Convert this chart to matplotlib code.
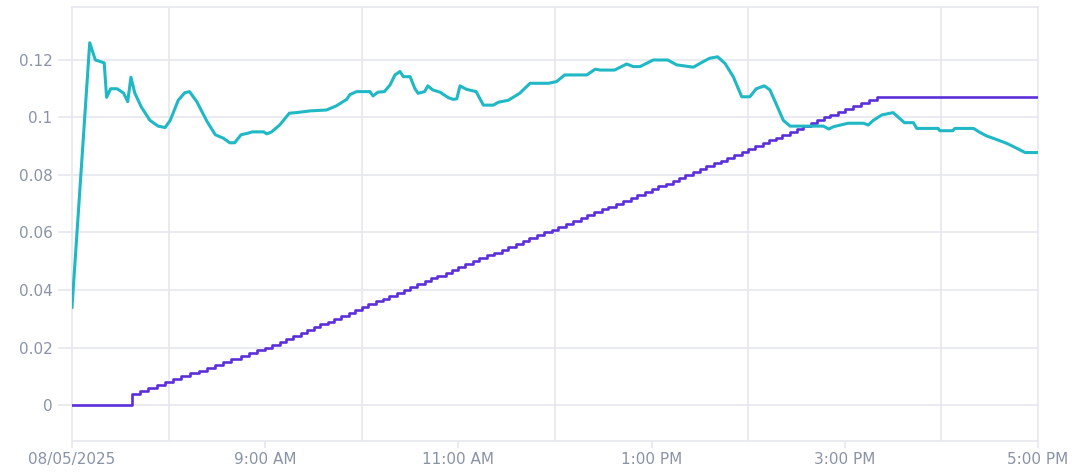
import matplotlib
matplotlib.use('Agg')
import matplotlib.pyplot as plt

# minutes after 7:00 AM on 08/05/2025
cyan_t = [0, 11, 14.5, 20, 21.5, 24, 28, 32, 34.6, 36.6, 39, 43, 48.4, 53.5, 57.8,
          61, 66, 70, 73, 77.5, 84, 89, 94, 98, 101, 105, 109, 112, 119, 121, 124,
          129, 135, 139.5, 148, 158, 164, 170.6, 172.7, 176.8, 185, 187, 190, 194,
          197.5, 200.6, 203.7, 205.8, 210, 213, 215, 219, 221, 224, 228.6, 233.7,
          236.8, 239, 241, 245, 251, 255.5, 261.7, 264.8, 271, 278, 284.5, 290.7,
          296, 301, 306, 319.7, 325, 328, 337, 344.5, 348.6, 352.8, 361, 370, 375.6,
          386, 390, 396, 401, 405.6, 410.7, 416, 421, 425, 430, 433.5, 437.7, 441.8,
          446, 454, 466.7, 470, 473, 482, 491.5, 494.6, 497.7, 503, 510, 514, 517,
          522.6, 524.7, 538, 539, 547, 548.4, 560, 563, 568, 574, 580.6, 586.8, 592,
          600]
cyan_v = [0.034, 0.126, 0.120, 0.119, 0.107, 0.110, 0.110, 0.1085, 0.1055, 0.114,
          0.1085, 0.1037, 0.099, 0.097, 0.0965, 0.099, 0.106, 0.1086, 0.109, 0.1055,
          0.0985, 0.094, 0.0928, 0.0912, 0.0912, 0.094, 0.0945, 0.095, 0.095, 0.0943,
          0.095, 0.0974, 0.1015, 0.1017, 0.1023, 0.1026, 0.104, 0.1063, 0.108, 0.109,
          0.109, 0.1075, 0.1088, 0.109, 0.1113, 0.1148, 0.116, 0.1142, 0.1142, 0.110,
          0.1084, 0.109, 0.111, 0.1096, 0.1088, 0.1069, 0.1063, 0.1065, 0.111, 0.1098,
          0.109, 0.1043, 0.1043, 0.1053, 0.106, 0.1084, 0.1119, 0.1119, 0.1119,
          0.1125, 0.1148, 0.1148, 0.1168, 0.1165, 0.1165, 0.1186, 0.1177, 0.1177,
          0.120, 0.120, 0.1183, 0.1175, 0.1188, 0.1206, 0.1211, 0.1188, 0.1142,
          0.1072, 0.1072, 0.110, 0.111, 0.1096, 0.1043, 0.099, 0.097, 0.097, 0.097,
          0.096, 0.0968, 0.098, 0.098, 0.0974, 0.099, 0.1009, 0.1017, 0.0997, 0.0982,
          0.0982, 0.0962, 0.0962, 0.0954, 0.0954, 0.0962, 0.0962, 0.0951, 0.0936,
          0.0924, 0.091, 0.0893, 0.0878, 0.0878]

purple_t = [0, 37,
            42, 47, 53, 58, 63, 68, 73, 79, 84, 89, 94, 99, 105, 110, 115, 120,
            124, 129, 133, 137, 142, 146, 150, 154, 159, 163,
            167, 172, 176, 180, 184, 189, 193, 197, 202, 206,
            210, 214, 219, 223, 227, 232, 236, 240,
            244, 249, 253, 258, 262, 267, 271, 276, 280, 284,
            289, 293, 298, 302, 307, 311, 316, 320, 324, 329,
            333, 338, 342, 347, 351, 356, 360,
            364, 369, 373, 377, 381, 386, 390, 394, 399, 403,
            407, 411, 416, 420, 424, 429, 433, 437, 441, 446,
            450, 454, 459, 463, 467, 471, 476, 480,
            485, 490, 495, 500, 600]
# thousandths
purple_v = [0, 4,
            5, 6, 7, 8, 9, 10, 11, 12, 13, 14, 15, 16, 17, 18, 19, 20,
            21, 22, 23, 24, 25, 26, 27, 28, 29, 30,
            31, 32, 33, 34, 35, 36, 37, 38, 39, 40,
            41, 42, 43, 44, 45, 46, 47, 48,
            49, 50, 51, 52, 53, 54, 55, 56, 57, 58,
            59, 60, 61, 62, 63, 64, 65, 66, 67, 68,
            69, 70, 71, 72, 73, 74, 75,
            76, 77, 78, 79, 80, 81, 82, 83, 84, 85,
            86, 87, 88, 89, 90, 91, 92, 93, 94, 95,
            96, 97, 98, 99, 100, 101, 102, 103,
            104, 105, 106, 107, 107]

x_ticks = [0, 120, 240, 360, 480, 600]
x_labels = ['08/05/2025', '9:00 AM', '11:00 AM', '1:00 PM', '3:00 PM', '5:00 PM']
x_grid = [60, 180, 300, 420, 540]
y_ticks = [0, 0.02, 0.04, 0.06, 0.08, 0.1, 0.12]
y_labels = ['0', '0.02', '0.04', '0.06', '0.08', '0.1', '0.12']

grid_c = '#e6e8ee'
text_c = '#8a93a6'

fig = plt.figure(figsize=(10.72, 4.74), dpi=100)
ax = fig.add_axes([72 / 1072, 33 / 474, 966 / 1072, 434 / 474])

ax.plot(purple_t, [v / 1000 for v in purple_v], drawstyle='steps-post',
        color='#5b2fd9', lw=1.9, zorder=3)
ax.plot(cyan_t, cyan_v, color='#1fb8c4', lw=2.2, zorder=4)

ax.set_xlim(0, 600)
ax.set_ylim(-0.01252, 0.13843)

ax.set_xticks(x_ticks)
ax.set_xticklabels(x_labels)
ax.set_xticks(x_grid, minor=True)
ax.set_yticks(y_ticks)
ax.set_yticklabels(y_labels)

ax.grid(True, which='minor', axis='x', color=grid_c, lw=1.2)
ax.grid(True, which='major', axis='y', color=grid_c, lw=1.2)
ax.set_axisbelow(True)

ax.tick_params(axis='x', which='major', length=5, width=1.2, color=grid_c,
               labelcolor=text_c, labelsize=11, pad=3)
ax.tick_params(axis='x', which='minor', length=0)
ax.tick_params(axis='y', length=10, width=1.2, color=grid_c,
               labelcolor=text_c, labelsize=11, pad=4)

for s in ax.spines.values():
    s.set_color(grid_c)
    s.set_linewidth(1.2)

fig.savefig('out.png', dpi=100)
